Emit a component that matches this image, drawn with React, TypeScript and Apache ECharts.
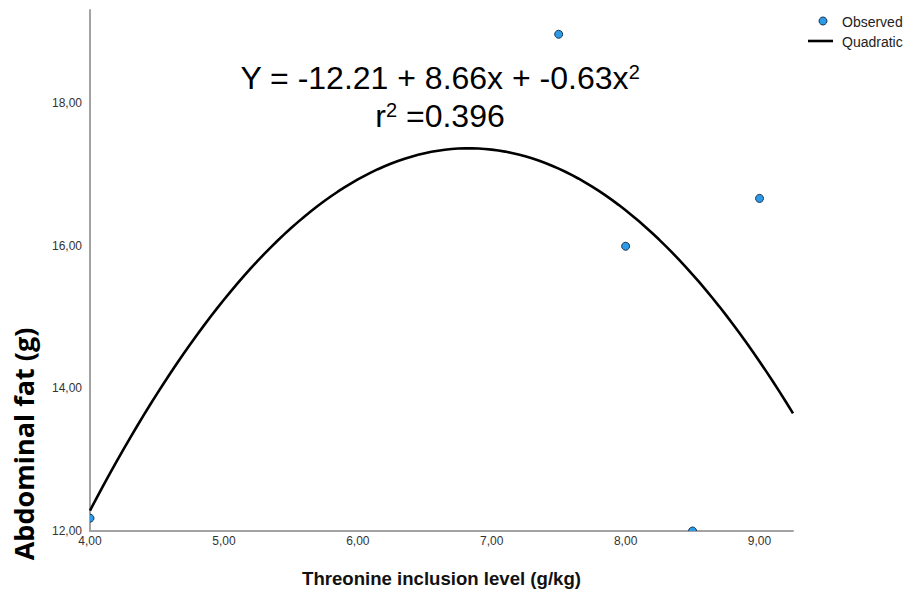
import React, { useEffect, useRef } from "react";
import * as echarts from "echarts";

// Observed means of abdominal fat at each threonine inclusion level
const THREONINE_LEVELS = [4.0, 7.5, 8.0, 8.5, 9.0];
const ABDOMINAL_FAT = [12.18, 18.96, 15.99, 12.0, 16.66];

// Quadratic fit: Y = a + b·x + c·x²
const COEF_A = -12.21;
const COEF_B = 8.66;
const COEF_C = -0.634;
const R_SQUARED = 0.396;

const X_MIN = 4;
const X_MAX = 9.25;
const Y_MIN = 12;
const Y_MAX = 19.3;

const LEGEND_NAMES = ["Observed", "Quadratic"];

const POINT_FILL = "#2D9AE8";
const POINT_STROKE = "#1d3550";

const fmtComma = (v: number) => v.toFixed(2).replace(".", ",");

export default function App() {
  const ref = useRef<HTMLDivElement>(null);

  useEffect(() => {
    if (!ref.current) return;
    const chart = echarts.init(ref.current, null, { renderer: "svg" });

    const observed = THREONINE_LEVELS.map((x, i) => [x, ABDOMINAL_FAT[i]]);
    const fitted: number[][] = [];
    for (let k = 0; k <= 105; k++) {
      const x = X_MIN + (k * (X_MAX - X_MIN)) / 105;
      fitted.push([x, COEF_A + COEF_B * x + COEF_C * x * x]);
    }

    const eqLine1 =
      `Y = ${COEF_A.toFixed(2)} + ${COEF_B.toFixed(2)}x + ${COEF_C.toFixed(2)}x{sup|2}`;
    const eqLine2 = `r{sup|2} =${R_SQUARED.toFixed(3)}`;
    const eqFont = "Liberation Sans";
    const supStyle = { fontFamily: eqFont, fontSize: 20, verticalAlign: "top", fill: "#000" };

    const legendText = {
      fontFamily: "Liberation Sans",
      fontSize: 14,
      fill: "#222",
      textVerticalAlign: "middle",
    };

    chart.setOption({
      animation: false,
      backgroundColor: "#ffffff",
      grid: { left: 90, right: 116, top: 10, bottom: 62 },
      xAxis: {
        type: "value",
        min: X_MIN,
        max: X_MAX,
        interval: 1,
        name: "Threonine inclusion level (g/kg)",
        nameLocation: "middle",
        nameGap: 38,
        nameTextStyle: {
          fontFamily: "Liberation Sans",
          fontWeight: "bold",
          fontSize: 18.6,
          color: "#111",
        },
        axisLine: { lineStyle: { color: "#a3a3a3", width: 2 } },
        axisTick: { show: false },
        splitLine: { show: false },
        axisLabel: {
          formatter: fmtComma,
          showMaxLabel: false,
          margin: 4,
          fontFamily: "Liberation Sans",
          fontSize: 12,
          color: "#333",
        },
      },
      yAxis: {
        type: "value",
        min: Y_MIN,
        max: Y_MAX,
        interval: 2,
        axisLine: { show: true, lineStyle: { color: "#a3a3a3", width: 2 } },
        axisTick: { show: false },
        splitLine: { show: false },
        axisLabel: {
          formatter: fmtComma,
          showMaxLabel: false,
          margin: 8,
          fontFamily: "Liberation Sans",
          fontSize: 12,
          color: "#333",
        },
      },
      graphic: [
        {
          type: "text",
          x: 23,
          y: 444,
          rotation: Math.PI / 2,
          style: {
            text: "Abdominal fat (g)",
            fontFamily: "Open Sans",
            fontWeight: "bold",
            fontSize: 27,
            fill: "#000",
            textAlign: "center",
            textVerticalAlign: "middle",
          },
        },
        {
          type: "text",
          x: 440,
          y: 78,
          z: 10,
          style: {
            text: eqLine1,
            fontFamily: eqFont,
            fontSize: 32,
            fill: "#000",
            textAlign: "center",
            textVerticalAlign: "middle",
            rich: { sup: supStyle },
          },
        },
        {
          type: "text",
          x: 440,
          y: 116,
          z: 10,
          style: {
            text: eqLine2,
            fontFamily: eqFont,
            fontSize: 32,
            fill: "#000",
            textAlign: "center",
            textVerticalAlign: "middle",
            rich: { sup: supStyle },
          },
        },
        // legend
        {
          type: "circle",
          shape: { cx: 823, cy: 21, r: 4 },
          style: { fill: POINT_FILL, stroke: POINT_STROKE, lineWidth: 1 },
        },
        {
          type: "text",
          x: 842,
          y: 22,
          style: { ...legendText, text: LEGEND_NAMES[0] },
        },
        {
          type: "line",
          shape: { x1: 808, y1: 41, x2: 833, y2: 41 },
          style: { stroke: "#000", lineWidth: 2.6 },
        },
        {
          type: "text",
          x: 842,
          y: 42,
          style: { ...legendText, text: LEGEND_NAMES[1] },
        },
      ],
      series: [
        {
          name: LEGEND_NAMES[1],
          type: "line",
          data: fitted,
          symbol: "none",
          lineStyle: { color: "#000", width: 2.6 },
          itemStyle: { color: "#000" },
          z: 3,
        },
        {
          name: LEGEND_NAMES[0],
          type: "custom",
          data: observed,
          clip: true,
          encode: { x: 0, y: 1 },
          itemStyle: { color: POINT_FILL },
          z: 4,
          renderItem: (_params: any, api: any) => {
            const p = api.coord([api.value(0), api.value(1)]);
            return {
              type: "circle",
              shape: { cx: p[0], cy: p[1], r: 4 },
              style: { fill: POINT_FILL, stroke: POINT_STROKE, lineWidth: 1 },
            };
          },
        },
      ],
    });

    return () => chart.dispose();
  }, []);

  return (
    <div
      ref={ref}
      style={{ position: "fixed", left: 0, top: 0, width: 909, height: 593 }}
    />
  );
}
